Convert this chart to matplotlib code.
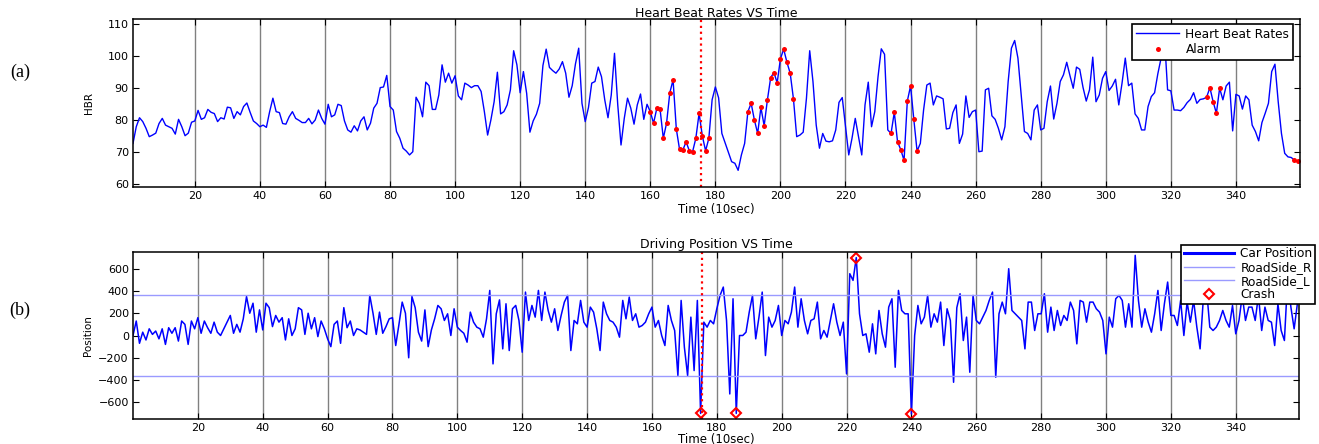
import matplotlib
matplotlib.use('Agg')
import matplotlib.pyplot as plt
from matplotlib.lines import Line2D

# ---------------- data ----------------
hbr_time = list(range(1, 360))
hbr = [
    72.8, 78.0, 80.8, 79.6, 77.5, 74.9, 75.4, 76.0, 79.0, 80.6,
    78.5, 78.0, 77.5, 75.7, 80.3, 78.0, 75.2, 76.0, 79.4, 79.8,
    83.1, 80.3, 80.8, 83.4, 82.5, 82.1, 79.6, 80.8, 80.4, 84.1,
    83.9, 80.6, 82.7, 81.7, 84.3, 85.4, 82.5, 79.8, 79.0, 78.0,
    78.5, 77.8, 82.7, 86.9, 82.7, 82.4, 79.0, 78.8, 81.1, 82.7,
    80.6, 80.0, 79.3, 79.3, 80.6, 78.9, 80.1, 83.2, 80.6, 78.8,
    85.0, 81.1, 81.7, 85.0, 84.6, 79.8, 77.0, 76.3, 78.3, 76.7,
    79.8, 81.1, 77.0, 79.1, 83.8, 85.3, 90.2, 90.4, 94.0, 84.3,
    83.2, 76.5, 74.4, 71.3, 70.4, 69.2, 70.2, 87.2, 85.3, 81.1,
    91.9, 90.8, 83.4, 83.4, 87.9, 97.3, 91.9, 94.7, 91.6, 93.9,
    87.6, 86.4, 91.6, 91.0, 90.2, 90.8, 90.8, 89.0, 82.7, 75.4,
    80.1, 85.8, 95.0, 82.0, 82.7, 84.8, 89.5, 101.7, 97.3, 88.6,
    95.2, 88.4, 76.3, 79.8, 81.9, 85.3, 97.1, 102.2, 96.5, 95.5,
    94.7, 96.0, 98.3, 94.7, 87.2, 90.8, 97.6, 102.5, 85.3, 79.6,
    84.0, 91.6, 92.1, 96.6, 93.6, 86.4, 80.8, 87.9, 100.9, 84.8,
    72.3, 80.6, 86.9, 83.8, 78.8, 84.8, 88.2, 80.3, 85.0, 82.7,
    79.1, 83.7, 83.5, 74.4, 79.1, 88.6, 92.6, 77.3, 70.9, 70.7,
    73.3, 70.5, 70.2, 74.4, 82.2, 75.1, 70.5, 74.4, 86.4, 90.4,
    87.0, 75.9, 73.0, 70.0, 67.1, 66.6, 64.4, 69.2, 72.8, 82.7,
    85.3, 80.1, 75.9, 84.0, 78.3, 86.4, 93.3, 94.9, 91.7, 99.2,
    102.2, 98.1, 94.7, 86.7, 74.9, 75.4, 76.3, 86.9, 101.7, 92.1,
    78.5, 71.3, 75.9, 73.5, 73.3, 73.6, 77.0, 85.6, 87.1, 78.0,
    69.2, 74.4, 80.6, 74.9, 69.2, 84.8, 91.9, 78.0, 82.7, 93.6,
    102.3, 100.6, 77.0, 75.9, 82.5, 73.3, 70.8, 67.5, 86.0, 90.7,
    80.3, 70.4, 72.8, 83.2, 91.0, 91.6, 84.8, 87.6, 87.2, 86.7,
    77.3, 77.5, 82.4, 84.8, 72.8, 75.7, 87.6, 80.9, 82.7, 83.2,
    70.2, 70.4, 89.5, 90.0, 81.4, 80.3, 77.5, 73.9, 78.0, 92.1,
    102.5, 104.9, 99.4, 87.9, 76.5, 75.9, 73.9, 83.2, 84.8, 77.0,
    77.5, 85.8, 90.7, 80.4, 85.3, 92.1, 94.2, 98.1, 93.9, 90.0,
    96.6, 95.9, 90.3, 86.0, 89.5, 99.7, 85.8, 87.9, 93.1, 95.2,
    89.3, 90.7, 92.8, 84.8, 91.6, 99.4, 90.8, 91.6, 82.0, 80.6,
    77.0, 77.0, 84.3, 87.4, 88.6, 94.5, 99.4, 106.7, 89.5, 89.2,
    83.2, 83.2, 83.0, 84.0, 85.5, 86.5, 88.6, 85.3, 86.5, 86.7,
    87.2, 90.2, 85.8, 82.2, 90.0, 86.4, 90.7, 91.9, 76.7, 88.1,
    87.6, 83.5, 87.6, 86.4, 78.5, 76.5, 73.6, 79.3, 82.2, 85.3,
    95.2, 97.5, 85.8, 75.9, 69.7, 68.6, 68.4, 67.6, 67.3,
]
alarm_time = (list(range(160, 179)) + list(range(190, 205)) +
              list(range(234, 243)) + list(range(331, 336)) + [358, 359])

pos_time = list(range(0, 360))
pos = [
    0, 130, -70, 30, -40, 60, 10, 40, -30, 60,
    -80, 70, 20, 70, -50, 130, 100, -80, 130, 60,
    160, 20, 130, 70, 20, 120, 30, 0, 60, 120,
    180, 20, 100, 30, 150, 350, 200, 290, 30, 230,
    50, 290, 250, 80, 180, 120, 160, -40, 150, 0,
    60, 250, 230, 10, 200, 60, 160, -10, 130, 60,
    -30, -100, 100, 130, -70, 250, 70, 130, 0, 60,
    50, 30, 10, 360, 200, 10, 210, 20, 80, 150,
    160, -90, 100, 300, 200, -200, 350, 250, 30, -50,
    230, -100, 50, 150, 270, 240, 135, 195, 0, 240,
    75, 45, 20, -60, 210, 120, 75, 60, -15, 150,
    405, -255, 195, 320, -120, 285, -135, 240, 270, 135,
    -150, 390, 135, 270, 165, 405, 135, 390, 225, 120,
    240, 45, 180, 300, 360, -135, 135, 105, 315, 120,
    75, 255, 210, 60, -135, 300, 195, 135, 120, 75,
    -15, 315, 150, 345, 135, 195, 75, 90, 120, 195,
    255, 75, 135, 0, -90, 270, 135, 45, -360, 315,
    -105, -360, 165, -315, 315, -700, 120, 75, 135, 105,
    240, 360, 435, 135, -525, 330, -700, 0, 0, 30,
    210, 360, -30, 165, 390, -180, 165, 75, 135, 270,
    0, 135, 105, 210, 435, 75, 330, 135, 15, 135,
    150, 300, -30, 45, -15, 135, 285, 120, 0, 120,
    -345, 555, 495, 700, 195, 0, 15, -150, 105, -165,
    225, 15, -105, 255, 330, -285, 405, 225, 195, 195,
    -705, 0, 270, 105, 165, 360, 75, 195, 120, 300,
    -90, 240, 135, -420, 250, 375, -45, 165, -330, 360,
    135, 105, 165, 225, 315, 390, -375, 195, 300, 195,
    600, 225, 195, 165, 135, -120, 300, 300, 45, 195,
    195, 375, 30, 255, 45, 225, 90, 180, 135, 300,
    225, -75, 315, 300, 120, 300, 300, 240, 210, 135,
    -165, 165, 75, 330, 360, 315, 75, 285, 75, 720,
    315, 75, 240, 120, 30, 195, 405, 45, 285, 480,
    180, 180, 90, 315, 0, 300, 120, 315, 75, -120,
    330, 414, 75, 45, 75, 135, 225, 135, 75, 270,
    15, 135, 360, 135, 255, 255, 135, 360, 45, 255,
    135, 120, -90, 285, 45, -45, 510, 255, 60, 285,
]
crash_time = [175, 186, 223, 240, 331]
roadside_r = 360
roadside_l = -360
event_time = 175.5

xticks = list(range(20, 341, 20))
hbr_yticks = [60, 70, 80, 90, 100, 110]
pos_yticks = [-600, -400, -200, 0, 200, 400, 600]

# ---------------- figure ----------------
W, H = 1319, 444
fig = plt.figure(figsize=(W / 100, H / 100), dpi=100)
plt.rcParams['font.family'] = ['DejaVu Sans']

ax1 = fig.add_axes([133 / W, 1 - 187 / H, 1167 / W, 168 / H])
ax2 = fig.add_axes([133 / W, 1 - 419 / H, 1166 / W, 167 / H])

blue = '#0000ff'
light = '#9a9aff'

for ax in (ax1, ax2):
    ax.set_xticks(xticks)
    ax.tick_params(direction='in', length=4, width=0.8, top=True, right=True,
                   labelsize=8, pad=3)
    ax.grid(axis='x', color='#808080', linewidth=1.0, linestyle='-')
    ax.set_axisbelow(True)
    for s in ax.spines.values():
        s.set_linewidth(1.1)

# top chart
ax1.plot(hbr_time, hbr, color=blue, linewidth=1.0, label='Heart Beat Rates')
alarm_vals = [hbr[hbr_time.index(t)] for t in alarm_time]
ax1.plot(alarm_time, alarm_vals, linestyle='none', marker='o', markersize=3.6,
         color='red', markeredgewidth=0, label='Alarm')
ax1.axvline(event_time, color='red', linestyle=':', linewidth=1.6)
ax1.set_xlim(1, 359.7)
ax1.set_ylim(59.2, 111.6)
ax1.set_yticks(hbr_yticks)
ax1.set_title('Heart Beat Rates VS Time', fontsize=9, pad=1.5)
ax1.set_xlabel('Time (10sec)', fontsize=8.5, labelpad=1)
ax1.set_ylabel('HBR', fontsize=7.5, labelpad=10)
leg1 = ax1.legend(loc='upper right', bbox_to_anchor=(0.994, 0.97), borderaxespad=0,
                  fontsize=8.7, frameon=True, fancybox=False, handlelength=3.6,
                  labelspacing=0.2, borderpad=0.3, handletextpad=0.5, framealpha=1)
leg1.get_frame().set_edgecolor('black')
leg1.get_frame().set_linewidth(1.2)

# bottom chart
ax2.plot(pos_time, pos, color=blue, linewidth=1.1, label='Car Position')
ax2.axhline(roadside_r, color=light, linewidth=1.0, label='RoadSide_R')
ax2.axhline(roadside_l, color=light, linewidth=1.0, label='RoadSide_L')
crash_vals = [pos[pos_time.index(t)] for t in crash_time]
ax2.plot(crash_time, crash_vals, linestyle='none', marker='D', markersize=5,
         markerfacecolor='none', markeredgecolor='red', markeredgewidth=1.5,
         label='Crash')
ax2.axvline(event_time, color='red', linestyle=':', linewidth=1.6)
ax2.set_xlim(0, 359.5)
ax2.set_ylim(-750, 750)
ax2.set_yticks(pos_yticks)
ax2.set_title('Driving Position VS Time', fontsize=9, pad=3)
ax2.set_xlabel('Time (10sec)', fontsize=8.5, labelpad=0)
ax2.set_ylabel('Position', fontsize=7.5, labelpad=4)
handles = [Line2D([], [], color=blue, linewidth=2.2),
           Line2D([], [], color=light, linewidth=1.0),
           Line2D([], [], color=light, linewidth=1.0),
           Line2D([], [], linestyle='none', marker='D', markersize=5,
                  markerfacecolor='none', markeredgecolor='red', markeredgewidth=1.5)]
leg2 = ax2.legend(handles, ['Car Position', 'RoadSide_R', 'RoadSide_L', 'Crash'],
                  loc='upper right', bbox_to_anchor=(1.0137, 1.042), borderaxespad=0,
                  fontsize=8.7, frameon=True, fancybox=False, handlelength=4.2,
                  labelspacing=0.05, borderpad=0.2, handletextpad=0.5, framealpha=1)
leg2.get_frame().set_edgecolor('black')
leg2.get_frame().set_linewidth(1.2)

fig.text(20 / W, 1 - 72 / H, '(a)', fontfamily='Liberation Serif', fontsize=13,
         ha='center', va='center')
fig.text(20 / W, 1 - 310 / H, '(b)', fontfamily='Liberation Serif', fontsize=13,
         ha='center', va='center')

fig.savefig('out.png', dpi=100)
